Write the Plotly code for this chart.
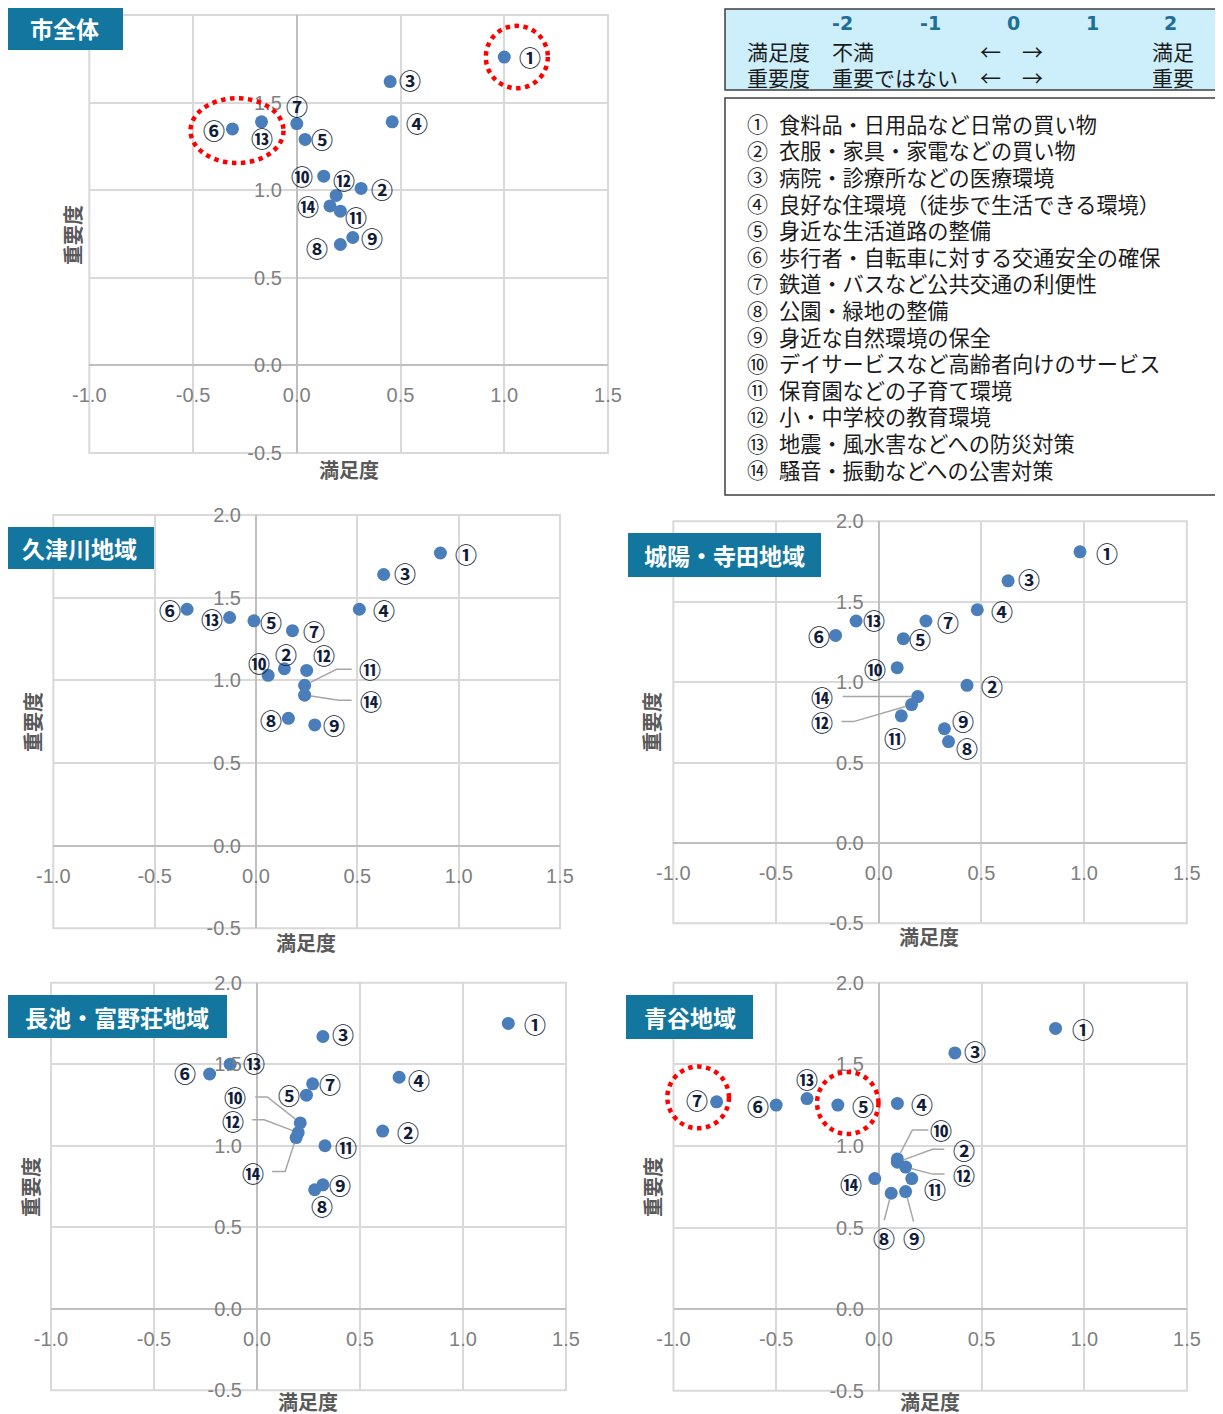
import math
import plotly.graph_objects as go

# the page body adds an 8px margin, so the figure is sized to the remaining window
OFF = 8
W, H = 1223 - OFF, 1414 - OFF

# ---------------- data ----------------
marks = ["①", "②", "③", "④", "⑤", "⑥", "⑦", "⑧", "⑨", "⑩", "⑪", "⑫", "⑬", "⑭"]

items = [
    "食料品・日用品など日常の買い物",
    "衣服・家具・家電などの買い物",
    "病院・診療所などの医療環境",
    "良好な住環境（徒歩で生活できる環境）",
    "身近な生活道路の整備",
    "歩行者・自転車に対する交通安全の確保",
    "鉄道・バスなど公共交通の利便性",
    "公園・緑地の整備",
    "身近な自然環境の保全",
    "デイサービスなど高齢者向けのサービス",
    "保育園などの子育て環境",
    "小・中学校の教育環境",
    "地震・風水害などへの防災対策",
    "騒音・振動などへの公害対策",
]

region_names = ["市全体", "久津川地域", "城陽・寺田地域", "長池・富野荘地域", "青谷地域"]

# satisfaction (満足度, x) and importance (重要度, y), items ①..⑭
city_sat = [1.00, 0.31, 0.45, 0.46, 0.04, -0.31, 0.00, 0.21, 0.27, 0.13, 0.21, 0.19, -0.17, 0.16]
city_imp = [1.76, 1.01, 1.62, 1.39, 1.29, 1.35, 1.38, 0.69, 0.73, 1.08, 0.88, 0.97, 1.39, 0.91]

kutsu_sat = [0.91, 0.14, 0.63, 0.51, -0.01, -0.34, 0.18, 0.16, 0.29, 0.06, 0.24, 0.25, -0.13, 0.24]
kutsu_imp = [1.77, 1.07, 1.64, 1.43, 1.36, 1.43, 1.30, 0.77, 0.73, 1.03, 0.97, 1.06, 1.38, 0.91]

joyo_sat = [0.98, 0.43, 0.63, 0.48, 0.12, -0.21, 0.23, 0.34, 0.32, 0.09, 0.11, 0.16, -0.11, 0.19]
joyo_imp = [1.81, 0.98, 1.63, 1.45, 1.27, 1.29, 1.38, 0.63, 0.71, 1.09, 0.79, 0.86, 1.38, 0.91]

naga_sat = [1.22, 0.61, 0.32, 0.69, 0.24, -0.23, 0.27, 0.28, 0.32, 0.21, 0.33, 0.20, -0.13, 0.19]
naga_imp = [1.75, 1.09, 1.67, 1.42, 1.31, 1.44, 1.38, 0.73, 0.76, 1.14, 1.00, 1.08, 1.50, 1.05]

aodani_sat = [0.86, 0.09, 0.37, 0.09, -0.20, -0.50, -0.79, 0.06, 0.13, 0.09, 0.16, 0.13, -0.35, -0.02]
aodani_imp = [1.72, 0.90, 1.57, 1.26, 1.25, 1.25, 1.27, 0.71, 0.72, 0.92, 0.80, 0.87, 1.29, 0.80]

sat_series = [city_sat, kutsu_sat, joyo_sat, naga_sat, aodani_sat]
imp_series = [city_imp, kutsu_imp, joyo_imp, naga_imp, aodani_imp]

x_ticks = [-1.0, -0.5, 0.0, 0.5, 1.0, 1.5]
y_ticks = [-0.5, 0.0, 0.5, 1.0, 1.5, 2.0]

scale_nums = ["-2", "-1", "0", "1", "2"]

# ---------------- layout configuration ----------------
X_RANGE = [-1.0, 1.5]
Y_RANGE = [-0.5, 2.0]

# plot areas in window pixels: left, right, top, bottom
boxes = [
    (89.3, 608.0, 15.0, 453.0),
    (53.3, 560.0, 515.0, 928.3),
    (673.3, 1186.8, 521.3, 923.3),
    (51.0, 566.0, 982.7, 1390.3),
    (673.5, 1187.0, 982.7, 1390.7),
]
# badge boxes: left, top, right, bottom
badges = [
    (6, 7, 123, 50),
    (4, 527, 154, 569),
    (628, 533, 821, 577),
    (7, 995, 227, 1038),
    (626, 995, 753, 1039),
]
# axis-title centres (x title, y title)
xtitle_pos = [(349, 469), (306, 942), (929, 936), (308, 1401), (930, 1401)]
ytitle_pos = [(72, 235), (33, 722), (652, 722), (30, 1187), (652, 1187)]

# label offsets in pixels (dx right, dy up) for items ①..⑭
label_offsets = [
    [(26, 1), (21, 0), (20, 3), (25, 0), (17, 1), (-18, 0), (0, 19), (-23, -2), (19, 1),
     (-22, 1), (16, -5), (8, 16), (0, -15), (-22, 1)],
    [(26, 0), (2, 16), (21, 3), (25, 0), (17, 0), (-17, 0), (22, 1), (-17, -1), (19, 1),
     (-9, 13), (65, 17), (17, 16), (-18, 0), (66, -5)],
    [(27, 0), (25, 0), (21, 3), (25, 0), (17, 1), (-17, 0), (22, 0), (18, -5), (19, 9),
     (-22, 0), (-6, -21), (-90, -16), (18, 2), (-96, 1)],
    [(27, 0), (25, 0), (20, 4), (20, -2), (-17, 1), (-25, 2), (17, 1), (7, -15), (17, 1),
     (-65, 27), (21, 0), (-65, 13), (24, 2), (-43, -34)],
    [(27, 0), (67, 13), (20, 3), (25, 0), (25, 0), (-18, 0), (-20, 3), (-7, -44), (8, -45),
     (44, 30), (23, -9), (58, -7), (0, 21), (-24, -4)],
]
# leader lines: (item index, list of elbow points in pixel offsets from the dot)
leaders = [
    [],
    [(10, [(32, 16), (47, 16)]), (13, [(34, -5), (47, -5)])],
    [(13, [(-75, 0)]), (11, [(-58, -17), (-70, -17)])],
    [(9, [(-33, 26), (-45, 26)]), (11, [(-34, 13), (-46, 13)]), (13, [(-11, -34), (-24, -34)])],
    [(9, [(15, 29), (31, 29)]), (1, [(35, 13), (47, 13)]), (11, [(27, -7), (39, -7)]),
     (7, [(-7, -27)]), (8, [(8, -30)])],
]
# red dotted emphasis ellipses (in chart value units: x0, x1, y0, y1)
highlights = [
    [(0.911, 1.210, 1.582, 1.938), (-0.512, -0.064, 1.155, 1.525)],
    [], [], [],
    [(-1.030, -0.730, 1.108, 1.486), (-0.301, -0.002, 1.073, 1.453)],
]

JP = "Noto Sans CJK JP"
TICK_FONT = dict(family="Liberation Sans, Arial", size=20, color="#7f7f7f")
GRID = "#d9d9d9"
ZERO = "#bfbfbf"
DOT = "#4a7ebb"
LABEL_COL = "#111d38"
BADGE = "#12769f"

fig = go.Figure()
annotations = []
shapes = []
layout_axes = {}


def px(v):
    return (v - OFF) / W


def py(v):
    return 1 - (v - OFF) / H


for i in range(5):
    n = "" if i == 0 else str(i + 1)
    l, r, t, b = boxes[i]
    xd = [px(l), px(r)]
    yd = [py(b), py(t)]

    def xpaper(v, xd=xd):
        return xd[0] + (v - X_RANGE[0]) / (X_RANGE[1] - X_RANGE[0]) * (xd[1] - xd[0])

    def ypaper(v, yd=yd):
        return yd[0] + (v - Y_RANGE[0]) / (Y_RANGE[1] - Y_RANGE[0]) * (yd[1] - yd[0])

    layout_axes["xaxis" + n] = dict(
        domain=xd, range=X_RANGE, tickmode="array", tickvals=x_ticks,
        ticktext=[f"{v:.1f}" for v in x_ticks],
        showgrid=True, gridcolor=GRID, gridwidth=2,
        zeroline=True, zerolinecolor=ZERO, zerolinewidth=2,
        showline=False, ticks="", anchor="free", position=ypaper(0),
        tickfont=TICK_FONT, ticklabelstandoff=16, fixedrange=True, automargin=False,
    )
    layout_axes["yaxis" + n] = dict(
        domain=yd, range=Y_RANGE, tickmode="array", tickvals=y_ticks,
        ticktext=[f"{v:.1f}" for v in y_ticks],
        showgrid=True, gridcolor=GRID, gridwidth=2,
        zeroline=True, zerolinecolor=ZERO, zerolinewidth=2,
        showline=False, ticks="", anchor="free", position=xpaper(0),
        tickfont=TICK_FONT, ticklabelstandoff=15, fixedrange=True, automargin=False,
    )
    xr, yr = "x" + n, "y" + n

    # outer frame of the plot area
    shapes.append(dict(type="rect", xref=xr + " domain", yref=yr + " domain",
                       x0=0, x1=1, y0=0, y1=1, line=dict(color=GRID, width=2),
                       layer="below"))

    sat, imp = sat_series[i], imp_series[i]

    # leader lines
    for idx, pts in leaders[i]:
        fx, fy = pts[0]
        d = math.hypot(fx, fy)
        sx, sy = fx / d * 6.5, fy / d * 6.5
        path = f"M {sx:.1f} {sy:.1f}" + "".join(f" L {a} {c}" for a, c in pts)
        shapes.append(dict(type="path", xref=xr, yref=yr,
                           xsizemode="pixel", ysizemode="pixel",
                           xanchor=sat[idx], yanchor=imp[idx], path=path,
                           line=dict(color="#a6a6a6", width=1.5)))

    fig.add_trace(go.Scatter(
        x=sat, y=imp, mode="markers", xaxis=xr, yaxis=yr,
        marker=dict(size=13, color=DOT, line=dict(width=0)),
        text=items, hoverinfo="text", showlegend=False,
    ))

    for k in range(14):
        dx, dy = label_offsets[i][k]
        annotations.append(dict(
            x=sat[k], y=imp[k], xref=xr, yref=yr, text=marks[k], showarrow=False,
            xshift=dx, yshift=dy, xanchor="center", yanchor="middle",
            font=dict(family=JP, size=22, color=LABEL_COL, weight=700),
        ))

    # emphasis ellipses (drawn in paper space so they are not clipped at the frame)
    for (x0, x1, y0, y1) in highlights[i]:
        shapes.append(dict(type="circle", xref="paper", yref="paper",
                           x0=xpaper(x0), x1=xpaper(x1), y0=ypaper(y0), y1=ypaper(y1),
                           line=dict(color="#ff0000", width=4.5, dash="dot")))

    # region badge
    bl, bt, br, bb = badges[i]
    shapes.append(dict(type="rect", xref="paper", yref="paper",
                       x0=px(bl), x1=px(br), y0=py(bb), y1=py(bt),
                       fillcolor=BADGE, line=dict(width=0), layer="above"))
    annotations.append(dict(
        x=px((bl + br) / 2), y=py((bt + bb) / 2), xref="paper", yref="paper",
        text=region_names[i], showarrow=False, xanchor="center", yanchor="middle",
        font=dict(family=JP, size=23, color="white", weight=700),
    ))

    # axis titles
    tx, ty = xtitle_pos[i]
    annotations.append(dict(x=px(tx), y=py(ty), xref="paper", yref="paper", text="満足度",
                            showarrow=False, xanchor="center", yanchor="middle",
                            font=dict(family=JP, size=20, color="#595959", weight=700)))
    tx, ty = ytitle_pos[i]
    annotations.append(dict(x=px(tx), y=py(ty), xref="paper", yref="paper", text="重要度",
                            showarrow=False, xanchor="center", yanchor="middle", textangle=-90,
                            font=dict(family=JP, size=20, color="#595959", weight=700)))

# ---------------- explanation boxes (top right) ----------------
shapes.append(dict(type="rect", xref="paper", yref="paper",
                   x0=px(725), x1=px(1226), y0=py(90), y1=py(9),
                   fillcolor="#cdeefb", line=dict(color="#3f3f3f", width=1.5)))
shapes.append(dict(type="rect", xref="paper", yref="paper",
                   x0=px(725), x1=px(1226), y0=py(495), y1=py(98),
                   fillcolor="white", line=dict(color="#3f3f3f", width=1.5)))

num_x = [842, 930, 1013, 1092, 1170]
for s, xx in zip(scale_nums, num_x):
    annotations.append(dict(x=px(xx), y=py(23), xref="paper", yref="paper", text=s,
                            showarrow=False, xanchor="center", yanchor="middle",
                            font=dict(family="DejaVu Sans, Verdana", size=19,
                                      color="#1d6f96", weight=700)))

rows = [
    (51.5, ["満足度", "不満", "←", "→", "満足"]),
    (76.5, ["重要度", "重要ではない", "←", "→", "重要"]),
]
row_x = [745, 830, 978, 1020, 1150]
for yy, texts in rows:
    for tx, xx in zip(texts, row_x):
        annotations.append(dict(x=px(xx), y=py(yy), xref="paper", yref="paper", text=tx,
                                showarrow=False, xanchor="left", yanchor="middle",
                                font=dict(family=JP, size=21, color="#1a1a1a")))

for k, txt in enumerate(items):
    yy = 123.3 + k * 26.6
    annotations.append(dict(x=px(745), y=py(yy), xref="paper", yref="paper", text=marks[k],
                            showarrow=False, xanchor="left", yanchor="middle",
                            font=dict(family=JP, size=21, color="#1a1a1a")))
    annotations.append(dict(x=px(777), y=py(yy), xref="paper", yref="paper", text=txt,
                            showarrow=False, xanchor="left", yanchor="middle",
                            font=dict(family=JP, size=21.2, color="#1a1a1a")))

fig.update_layout(
    width=W, height=H, autosize=False,
    margin=dict(l=0, r=0, t=0, b=0, pad=0, autoexpand=False),
    paper_bgcolor="white", plot_bgcolor="white",
    annotations=annotations, shapes=shapes,
    showlegend=False,
    **layout_axes,
)

fig.write_html("out.html")
